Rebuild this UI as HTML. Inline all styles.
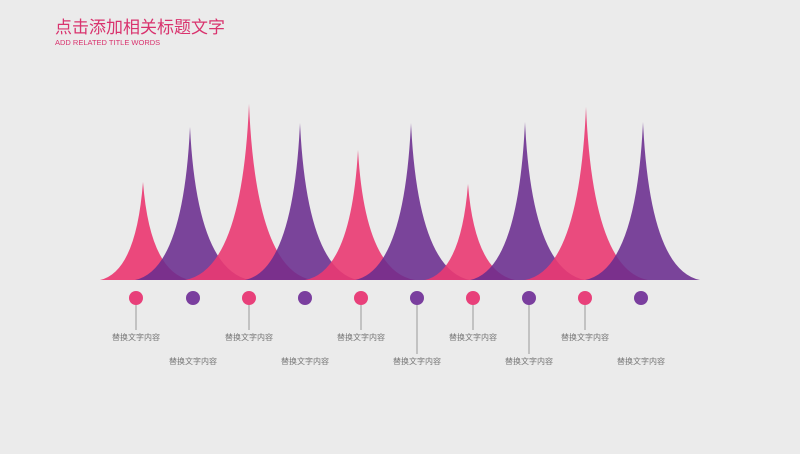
<!DOCTYPE html>
<html><head><meta charset="utf-8"><style>
body{margin:0;width:800px;height:449px;background:#ebebeb;overflow:hidden;font-family:"Liberation Sans","Noto Sans CJK SC",sans-serif}
</style></head><body>
<svg width="800" height="449" viewBox="0 0 800 449" xmlns="http://www.w3.org/2000/svg">
<text x="55" y="33" font-size="17" fill="#d9336e" font-family="Liberation Sans,Noto Sans CJK SC,sans-serif">点击添加相关标题文字</text>
<text x="55" y="45" font-size="7.5" fill="#d9336e" font-family="Liberation Sans,sans-serif">ADD RELATED TITLE WORDS</text>
<g>
<path d="M100 280 Q136 272 143 182 Q150 272 190 280Z" fill="#ea3a72" opacity="0.92"/>
<path d="M135 280 Q183 270 190 127 Q197 270 250 280Z" fill="#6a2c8e" opacity="0.88"/>
<path d="M185 280 Q242 270 249 104 Q256 270 312 280Z" fill="#ea3a72" opacity="0.9"/>
<path d="M245 280 Q293 270 300 123 Q307 270 358 280Z" fill="#6a2c8e" opacity="0.88"/>
<path d="M305 280 Q351 272 358 150 Q365 272 415 280Z" fill="#ea3a72" opacity="0.9"/>
<path d="M355 280 Q404 270 411 123 Q418 270 470 280Z" fill="#6a2c8e" opacity="0.88"/>
<path d="M425 280 Q461 272 468 184 Q475 272 515 280Z" fill="#ea3a72" opacity="0.9"/>
<path d="M470 280 Q518 270 525 122 Q532 270 585 280Z" fill="#6a2c8e" opacity="0.88"/>
<path d="M525 280 Q579 270 586 107 Q593 270 648 280Z" fill="#ea3a72" opacity="0.9"/>
<path d="M585 280 Q636 270 643 122 Q650 270 700 280Z" fill="#6a2c8e" opacity="0.88"/>
</g>
<g stroke="#999" stroke-width="1">
<line x1="136" y1="298" x2="136" y2="330"/><line x1="249" y1="298" x2="249" y2="330"/>
<line x1="361" y1="298" x2="361" y2="330"/><line x1="473" y1="298" x2="473" y2="330"/>
<line x1="585" y1="298" x2="585" y2="330"/>
<line x1="417" y1="298" x2="417" y2="354"/><line x1="529" y1="298" x2="529" y2="354"/>
</g>
<g fill="#e8407a">
<circle cx="136" cy="298" r="7"/><circle cx="249" cy="298" r="7"/><circle cx="361" cy="298" r="7"/><circle cx="473" cy="298" r="7"/><circle cx="585" cy="298" r="7"/>
</g>
<g fill="#7a3e9e">
<circle cx="193" cy="298" r="7"/><circle cx="305" cy="298" r="7"/><circle cx="417" cy="298" r="7"/><circle cx="529" cy="298" r="7"/><circle cx="641" cy="298" r="7"/>
</g>
<g font-size="8" fill="#777" text-anchor="middle" font-family="Liberation Sans,Noto Sans CJK SC,sans-serif">
<text x="136" y="340">替换文字内容</text><text x="249" y="340">替换文字内容</text><text x="361" y="340">替换文字内容</text><text x="473" y="340">替换文字内容</text><text x="585" y="340">替换文字内容</text>
<text x="193" y="364">替换文字内容</text><text x="305" y="364">替换文字内容</text><text x="417" y="364">替换文字内容</text><text x="529" y="364">替换文字内容</text><text x="641" y="364">替换文字内容</text>
</g>
</svg>
</body></html>
